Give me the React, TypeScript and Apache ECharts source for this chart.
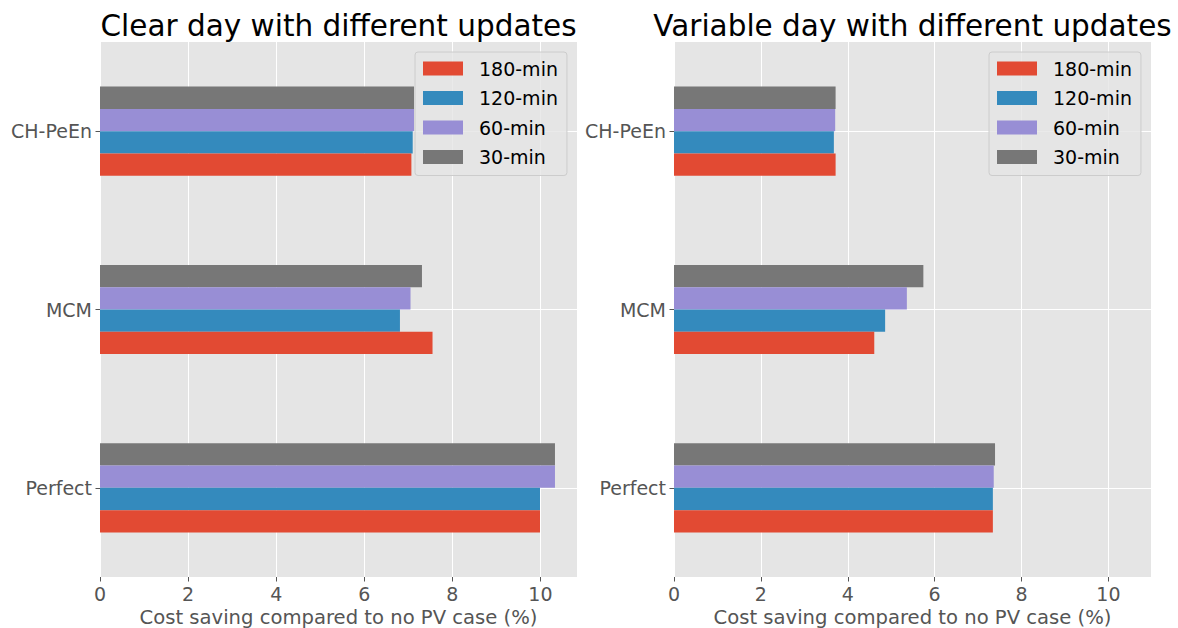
import React, { useEffect, useRef } from "react";
import * as echarts from "echarts";

const categories = ["Perfect", "MCM", "CH-PeEn"];
const seriesNames = ["30-min", "60-min", "120-min", "180-min"];
const legendOrder = ["180-min", "120-min", "60-min", "30-min"];
const colors: Record<string, string> = {
  "180-min": "#E24A33",
  "120-min": "#348ABD",
  "60-min": "#988ED5",
  "30-min": "#777777",
};

// Clear day
const clear30 = [10.33, 7.31, 7.13];
const clear60 = [10.33, 7.05, 7.13];
const clear120 = [9.99, 6.81, 7.1];
const clear180 = [9.99, 7.55, 7.07];
// Variable day
const var30 = [7.39, 5.74, 3.72];
const var60 = [7.36, 5.36, 3.71];
const var120 = [7.34, 4.86, 3.68];
const var180 = [7.34, 4.61, 3.72];

const clearData = [clear30, clear60, clear120, clear180];
const varData = [var30, var60, var120, var180];

const titles = ["Clear day with different updates", "Variable day with different updates"];
const xLabel = "Cost saving compared to no PV case (%)";
const xMax = [10.83, 10.98];

const FONT = "DejaVu Sans";

export default function App() {
  const ref = useRef<HTMLDivElement>(null);
  useEffect(() => {
    if (!ref.current) return;
    const chart = echarts.init(ref.current, null, { renderer: "svg" });
    const panels = [0, 1];
    const gridLefts = [100, 674];
    const option: any = {
      animation: false,
      backgroundColor: "#ffffff",
      textStyle: { fontFamily: FONT },
      title: panels.map((p) => ({
        text: titles[p],
        left: gridLefts[p] + 238.5,
        textAlign: "center",
        top: 11,
        padding: 0,
        textStyle: { fontFamily: FONT, fontSize: 29.5, fontWeight: "normal", color: "#000000" },
      })),
      legend: panels.map((p) => ({
        orient: "vertical",
        left: gridLefts[p] + 315,
        top: 52,
        padding: [7, 9, 9, 8],
        itemGap: 10.5,
        itemWidth: 40,
        itemHeight: 14,
        icon: "rect",
        backgroundColor: "rgba(229,229,229,0.8)",
        borderColor: "#cccccc",
        borderWidth: 1,
        borderRadius: 3,
        data: legendOrder.map((n) => ({ name: n })),
        textStyle: { fontFamily: FONT, fontSize: 19, lineHeight: 19, color: "#000000", padding: [0, 0, 0, 11] },
        selectedMode: false,
      })),
      grid: panels.map((p) => ({
        left: gridLefts[p],
        top: 42,
        width: 477,
        height: 535,
        show: true,
        backgroundColor: "#E5E5E5",
        borderWidth: 0,
        containLabel: false,
        outerBoundsMode: "none",
      })),
      xAxis: panels.map((p) => ({
        type: "value",
        gridIndex: p,
        min: 0,
        max: xMax[p],
        interval: 2,
        name: xLabel,
        nameLocation: "middle",
        nameGap: 26,
        nameTextStyle: { fontFamily: FONT, fontSize: 19.6, lineHeight: 20, color: "#555555" },
        axisLine: { show: false },
        axisTick: { show: true, length: 4.5, lineStyle: { color: "#555555" } },
        axisLabel: {
          fontFamily: FONT,
          fontSize: 19,
          color: "#555555",
          margin: 7,
          showMaxLabel: false,
          formatter: (v: number) => (Math.abs(v - Math.round(v)) < 1e-9 && Math.round(v) % 2 === 0 ? String(Math.round(v)) : ""),
        },
        splitLine: { show: true, lineStyle: { color: "#ffffff", width: 1 } },
      })),
      yAxis: panels.map((p) => ({
        type: "category",
        gridIndex: p,
        data: categories,
        axisLine: { show: false },
        axisTick: { show: true, alignWithLabel: true, length: 4.5, lineStyle: { color: "#555555" } },
        axisLabel: { fontFamily: FONT, fontSize: 19, color: "#555555", margin: 8 },
        splitLine: { show: true, alignWithLabel: true, lineStyle: { color: "#ffffff", width: 1 } },
      })),
      series: [] as any[],
    };
    panels.forEach((p) => {
      const data = p === 0 ? clearData : varData;
      seriesNames.forEach((name, i) => {
        option.series.push({
          type: "bar",
          name,
          xAxisIndex: p,
          yAxisIndex: p,
          data: data[i],
          barWidth: "12.5%",
          barGap: "0%",
          itemStyle: { color: colors[name] },
          z: 2,
        });
      });
    });
    chart.setOption(option);
    return () => chart.dispose();
  }, []);
  return (
    <div
      ref={ref}
      style={{ position: "absolute", left: 0, top: 0, width: 1178, height: 628 }}
    />
  );
}
